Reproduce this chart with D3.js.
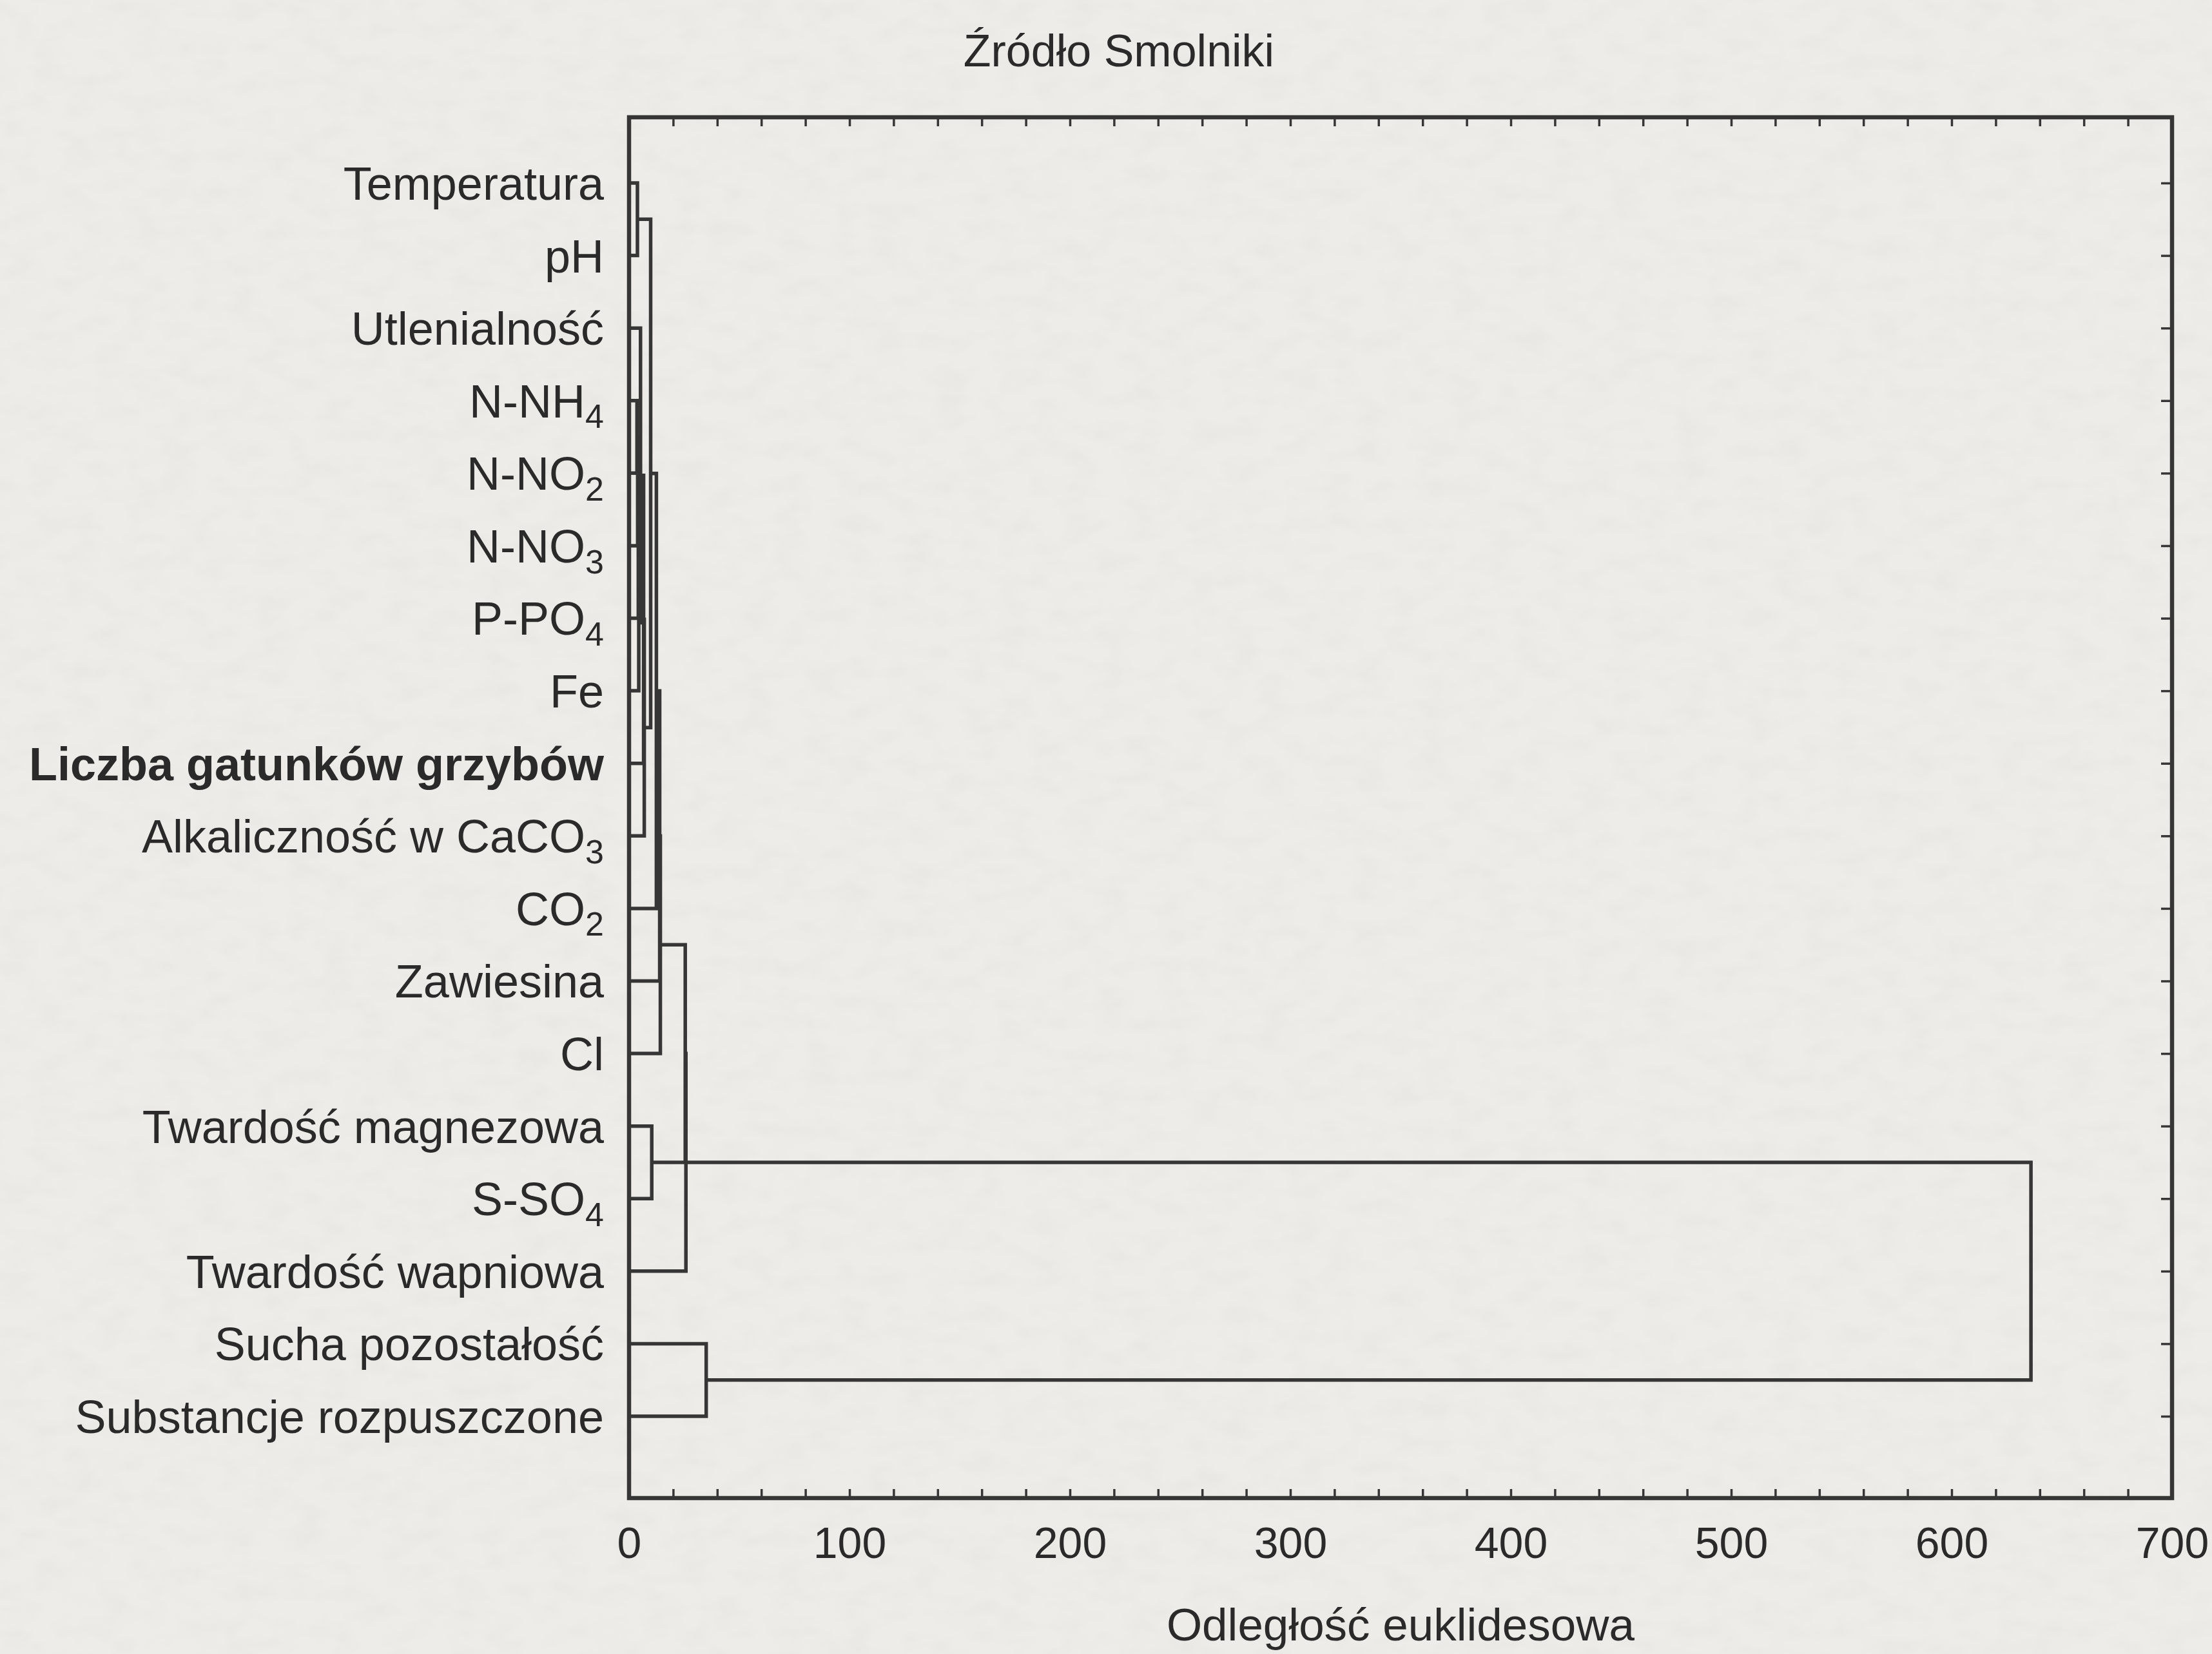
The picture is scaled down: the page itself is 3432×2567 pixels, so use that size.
<!DOCTYPE html>
<html>
<head>
<meta charset="utf-8">
<script src="https://cdn.jsdelivr.net/npm/d3@7/dist/d3.min.js"></script>
<style>
  html, body { margin: 0; padding: 0; background: #ecebe7; }
  svg { display: block; }
</style>
</head>
<body>
<script>
// Leaves of the tree diagram, top to bottom
const leafNames = [
  "Temperatura", "pH", "Utlenialność", "N-NH", "N-NO", "N-NO", "P-PO", "Fe",
  "Liczba gatunków grzybów", "Alkaliczność w CaCO", "CO", "Zawiesina", "Cl",
  "Twardość magnezowa", "S-SO", "Twardość wapniowa", "Sucha pozostałość",
  "Substancje rozpuszczone"
];
const leafSubscripts = ["", "", "", "4", "2", "3", "4", "", "", "3", "2", "", "", "", "4", "", "", ""];
const boldLeaves = ["Liczba gatunków grzybów"];

// Linkage table: [child A, child B, linkage distance]; ids 0-17 are leaves,
// each row creates a new cluster with id 18 + row index
const linkA = [3, 0, 18, 20, 21, 2, 23, 24, 19, 13, 26, 28, 29, 30, 31, 16, 32];
const linkB = [4, 1, 5, 6, 7, 22, 8, 9, 25, 14, 10, 11, 12, 27, 15, 17, 33];
const linkDist = [3.6, 3.8, 3.9, 4.2, 4.4, 5.2, 6.6, 6.9, 9.8, 10.3, 12.4, 13.9, 14.2, 25.5, 25.8, 35.0, 636];

// Axis
const xTicks = d3.range(0, 701, 20);
const xLabelTicks = [0, 100, 200, 300, 400, 500, 600, 700];
const chartTitle = "Źródło Smolniki";
const xTitle = "Odległość euklidesowa";

const W = 3432, H = 2567;
const plot = { left: 976, right: 3370, top: 182, bottom: 2325 };
const leafSpan = [284, 2198];
const ink = "#363636";
const textInk = "#2a2a2a";
const font = "'Liberation Sans', Arial, Helvetica, sans-serif";

const svg = d3.select("body").append("svg")
  .attr("width", W).attr("height", H)
  .attr("viewBox", `0 0 ${W} ${H}`);

// paper grain
const defs = svg.append("defs");
const grain = defs.append("filter").attr("id", "grain")
  .attr("x", 0).attr("y", 0).attr("width", "100%").attr("height", "100%");
grain.append("feTurbulence").attr("type", "fractalNoise")
  .attr("baseFrequency", "0.02 0.035").attr("numOctaves", 3).attr("seed", 7).attr("result", "n");
grain.append("feColorMatrix").attr("type", "matrix")
  .attr("values", "0 0 0 0 0.45  0 0 0 0 0.45  0 0 0 0 0.43  0 0 0 -0.9 0.55");

svg.append("rect").attr("width", W).attr("height", H).attr("fill", "#edece8");
svg.append("rect").attr("width", W).attr("height", H).attr("filter", "url(#grain)").attr("opacity", 0.16);

const x = d3.scaleLinear().domain([0, 700]).range([plot.left, plot.right]);
const y = d3.scalePoint().domain(d3.range(leafNames.length)).range(leafSpan);

// positions of nodes: leaves then clusters (outgoing line at bracket midpoint)
const nodeY = leafNames.map((_, i) => y(i));
const nodeH = leafNames.map(() => 0);
linkA.forEach((a, k) => {
  nodeY.push((nodeY[a] + nodeY[linkB[k]]) / 2);
  nodeH.push(linkDist[k]);
});

// dendrogram brackets
const g = svg.append("g");
g.selectAll("path.link").data(linkA.map((a, k) => ({ a, b: linkB[k], h: linkDist[k] })))
  .join("path")
  .attr("class", "link")
  .attr("fill", "none")
  .attr("stroke", ink)
  .attr("stroke-width", 5.5)
  .attr("stroke-linejoin", "miter")
  .attr("d", d => `M${x(nodeH[d.a])},${nodeY[d.a]}H${x(d.h)}V${nodeY[d.b]}H${x(nodeH[d.b])}`);

// frame
svg.append("rect")
  .attr("x", plot.left).attr("y", plot.top)
  .attr("width", plot.right - plot.left).attr("height", plot.bottom - plot.top)
  .attr("fill", "none").attr("stroke", ink).attr("stroke-width", 6.5);

// bottom axis (inward ticks)
const axB = svg.append("g").attr("transform", `translate(0,${plot.bottom})`)
  .call(d3.axisBottom(x).tickValues(xTicks).tickSize(-14).tickPadding(45)
    .tickFormat(d => xLabelTicks.includes(d) ? d : ""));
axB.select(".domain").remove();
axB.selectAll("line").attr("stroke", ink).attr("stroke-width", 3.5);
axB.selectAll("text").attr("font-family", font).attr("font-size", 68).attr("fill", textInk);

// top axis (inward ticks, no labels)
const axT = svg.append("g").attr("transform", `translate(0,${plot.top})`)
  .call(d3.axisTop(x).tickValues(xTicks).tickSize(-14).tickFormat(""));
axT.select(".domain").remove();
axT.selectAll("line").attr("stroke", ink).attr("stroke-width", 3.5);

// right axis (inward ticks at leaves)
const axR = svg.append("g").attr("transform", `translate(${plot.right},0)`)
  .call(d3.axisRight(y).tickSize(-17).tickFormat(""));
axR.select(".domain").remove();
axR.selectAll("line").attr("stroke", ink).attr("stroke-width", 3.5);

// leaf labels
const labels = svg.append("g").selectAll("text").data(leafNames)
  .join("text")
  .attr("x", 937)
  .attr("y", (d, i) => y(i))
  .attr("dy", "0.36em")
  .attr("text-anchor", "end")
  .attr("font-family", font)
  .attr("font-size", 72)
  .attr("font-weight", d => boldLeaves.includes(d) ? 700 : 400)
  .attr("fill", textInk);
labels.append("tspan").text(d => d);
labels.append("tspan")
  .attr("font-size", 52)
  .attr("dy", "0.32em")
  .text((d, i) => leafSubscripts[i]);

// title
svg.append("text")
  .attr("x", 1736).attr("y", 103)
  .attr("text-anchor", "middle")
  .attr("font-family", font).attr("font-size", 70).attr("fill", textInk)
  .text(chartTitle);

// x-axis title
svg.append("text")
  .attr("x", (plot.left + plot.right) / 2).attr("y", 2546)
  .attr("text-anchor", "middle")
  .attr("font-family", font).attr("font-size", 71).attr("fill", textInk)
  .text(xTitle);
</script>
</body>
</html>
